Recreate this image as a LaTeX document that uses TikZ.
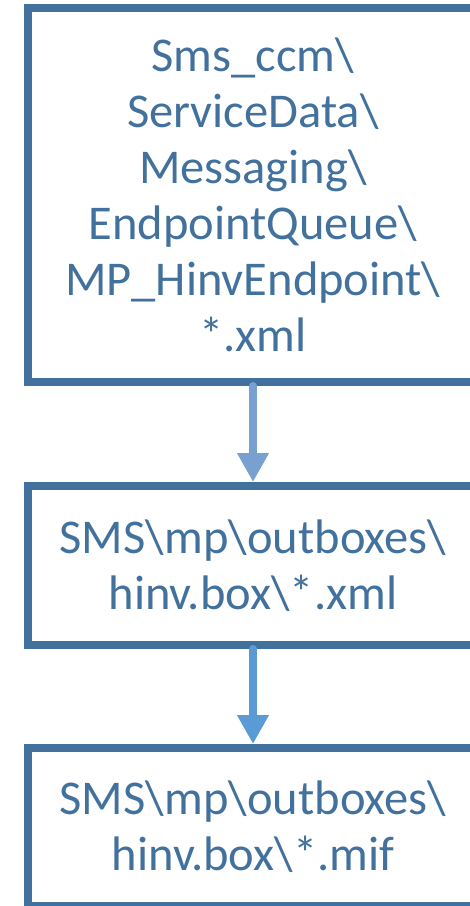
\documentclass[tikz,border=0pt]{standalone}
\usepackage{fontspec}
\setmainfont{Carlito}
\usetikzlibrary{arrows.meta}

\definecolor{boxblue}{HTML}{41719C}
\definecolor{flowA}{HTML}{79A1D0}
\definecolor{flowB}{HTML}{5B9BD5}

\tikzset{
    pathbox/.style={draw=boxblue, line width=8pt, text=boxblue, align=center,
        minimum width=450pt, inner sep=0pt,
        font=\fontsize{48.5}{56}\selectfont},
    flow/.style={line width=8pt, line cap=round,
        -{Triangle[width=30pt,length=29pt]}}
}

\begin{document}
\begin{tikzpicture}[x=1pt,y=1pt]

\useasboundingbox (0,0) rectangle (470,-906);
\clip (0,0) rectangle (470,-906);

\node[pathbox, minimum height=374pt] (ccm) at (253,-195)
    {Sms\_ccm\textbackslash\\ServiceData\textbackslash\\Messaging\textbackslash\\EndpointQueue\textbackslash\\MP\_HinvEndpoint\textbackslash\\*.xml};

\node[pathbox, minimum height=159pt] (xmlbox) at (253,-565.5)
    {SMS\textbackslash mp\textbackslash outboxes\textbackslash\\hinv.box\textbackslash*.xml};

\node[pathbox, minimum height=158pt] (mifbox) at (253,-827)
    {SMS\textbackslash mp\textbackslash outboxes\textbackslash\\hinv.box\textbackslash*.mif};

\draw[flow, flowA] (ccm.south) -- (xmlbox.north);
\draw[flow, flowB] (xmlbox.south) -- (mifbox.north);

\end{tikzpicture}
\end{document}
